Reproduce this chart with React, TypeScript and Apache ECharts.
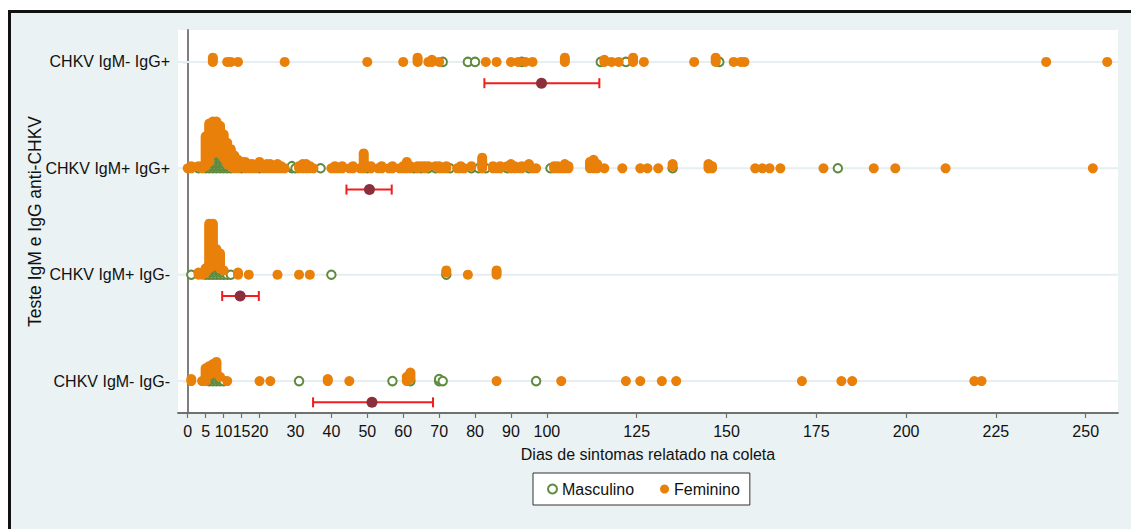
import React, { useEffect, useRef } from "react";
import * as echarts from "echarts";

// Test groups, bottom to top (y positions 1..4)
const groupLabels = ["CHKV IgM- IgG-", "CHKV IgM+ IgG-", "CHKV IgM+ IgG+", "CHKV IgM- IgG+"];
const groupPositions = [1, 2, 3, 4];

// X-axis ticks (days)
const dayTicks = [0, 5, 10, 15, 20, 30, 40, 50, 60, 70, 80, 90, 100, 125, 150, 175, 200, 225, 250];

// Reported symptom days: [day, number of patients] per group and sex
const negNegMale = [[6, 3], [7, 4], [8, 4], [9, 2], [10, 1], [31, 1], [57, 1], [62, 1], [70, 2], [71, 1], [97, 1]];
const negNegFemale = [
  [1, 2], [4, 1], [5, 7], [6, 5], [7, 5], [8, 6], [9, 1], [11, 1], [20, 1], [23, 1], [39, 2], [45, 1],
  [61, 3], [62, 4], [86, 1], [104, 1], [122, 1], [126, 1], [132, 1], [136, 1], [171, 1], [182, 1],
  [185, 1], [219, 1], [221, 1],
];

const posNegMale = [[1, 1], [5, 1], [6, 3], [7, 4], [8, 5], [9, 3], [10, 2], [11, 1], [12, 1], [40, 1], [72, 1]];
const posNegFemale = [
  [3, 2], [4, 2], [5, 3], [6, 22], [7, 21], [8, 8], [9, 8], [10, 1], [14, 2], [17, 1], [25, 1], [31, 1],
  [34, 1], [72, 2], [78, 1], [86, 3],
];

const posPosMale = [
  [3, 1], [5, 1], [6, 3], [7, 7], [8, 9], [9, 7], [10, 5], [11, 2], [12, 1], [15, 1], [20, 1], [29, 2],
  [30, 1], [37, 1], [50, 1], [63, 1], [65, 1], [67, 1], [69, 1], [73, 1], [79, 1], [81, 1], [83, 1],
  [89, 1], [95, 1], [101, 1], [135, 1], [181, 1],
];
const posPosFemale = [
  [0, 1], [1, 2], [3, 1], [4, 2], [5, 15], [6, 19], [7, 16], [8, 14], [9, 14], [10, 12], [11, 11],
  [12, 9], [13, 7], [14, 5], [15, 3], [16, 4], [17, 3], [18, 3], [19, 2], [20, 3], [21, 2], [22, 3],
  [23, 3], [24, 2], [25, 3], [26, 2], [27, 1], [31, 2], [32, 3], [33, 3], [34, 2], [35, 1], [40, 1],
  [41, 2], [42, 1], [43, 2], [45, 1], [46, 2], [48, 1], [49, 8], [50, 1], [51, 2], [53, 1], [54, 2],
  [56, 1], [57, 2], [59, 1], [60, 2], [61, 4], [62, 2], [64, 2], [65, 1], [66, 2], [67, 1], [69, 1],
  [70, 2], [71, 1], [72, 2], [75, 1], [76, 2], [77, 1], [79, 1], [82, 6], [85, 2], [86, 1], [87, 2],
  [89, 1], [90, 3], [91, 2], [92, 1], [93, 2], [95, 2], [96, 1], [97, 1], [102, 2], [103, 2], [104, 1],
  [105, 3], [106, 2], [112, 4], [113, 5], [114, 3], [116, 1], [121, 1], [126, 1], [128, 1], [131, 1],
  [135, 2], [145, 3], [146, 2], [158, 1], [160, 1], [162, 1], [165, 1], [177, 1], [191, 1], [197, 1],
  [211, 1], [252, 1],
];

const negPosMale = [[71, 1], [78, 1], [80, 1], [93, 1], [115, 1], [122, 1], [148, 1]];
const negPosFemale = [
  [7, 3], [11, 1], [12, 1], [14, 1], [27, 1], [50, 1], [60, 1], [64, 3], [67, 1], [68, 2], [70, 1],
  [83, 1], [86, 1], [90, 1], [92, 1], [94, 1], [96, 1], [105, 3], [116, 2], [118, 1], [120, 1],
  [124, 3], [127, 1], [141, 1], [147, 3], [152, 1], [154, 1], [155, 1], [239, 1], [256, 1],
];

// Mean and 95% CI of days, per group (bottom to top)
const meanDays = [51.3, 14.6, 50.6, 98.5];
const ciLow = [34.9, 9.6, 44.2, 82.6];
const ciHigh = [68.3, 19.8, 56.8, 114.6];

const maleByGroup = [negNegMale, posNegMale, posPosMale, negPosMale];
const femaleByGroup = [negNegFemale, posNegFemale, posPosFemale, negPosFemale];

const STACK_STEP = 0.02; // vertical offset between stacked dots
const CI_OFFSET = 0.2; // CI bar sits below its group line

const FONT = "Arial, 'Liberation Sans', sans-serif";
const GREEN = "#5E8B3F";
const ORANGE = "#E8800A";

// Stack tied values: males at the base, females on top of them
function buildStacks() {
  const male: number[][] = [];
  const female: number[][] = [];
  groupPositions.forEach((base, g) => {
    const mCount: Record<number, number> = {};
    maleByGroup[g].forEach(([d, n]) => {
      mCount[d] = n;
      for (let i = 0; i < n; i++) male.push([d, base + i * STACK_STEP]);
    });
    femaleByGroup[g].forEach(([d, n]) => {
      const off = mCount[d] || 0;
      for (let j = 0; j < n; j++) female.push([d, base + (off + j) * STACK_STEP]);
    });
  });
  return { male, female };
}

export default function App() {
  const ref = useRef<HTMLDivElement>(null);

  useEffect(() => {
    if (!ref.current) return;
    const chart = echarts.init(ref.current, undefined, { renderer: "svg" });
    const { male, female } = buildStacks();

    const ciData = groupPositions.map((p, i) => [ciLow[i], ciHigh[i], meanDays[i], p - CI_OFFSET]);
    const meanData = groupPositions.map((p, i) => [meanDays[i], p - CI_OFFSET]);

    chart.setOption({
      animation: false,
      backgroundColor: "#EAF2F3",
      textStyle: { fontFamily: FONT },
      grid: {
        left: 167,
        top: 17,
        width: 940,
        height: 383,
        backgroundColor: "#fff",
        show: true,
        borderWidth: 0,
        containLabel: false,
        outerBoundsMode: "none",
      },
      legend: {
        data: ["Masculino", "Feminino"],
        left: 522,
        top: 460,
        backgroundColor: "#fff",
        borderColor: "#333",
        borderWidth: 1,
        borderRadius: 0,
        padding: [8, 10, 8, 14],
        itemWidth: 9,
        itemHeight: 9,
        itemGap: 26,
        textStyle: { fontSize: 16, color: "#111", fontFamily: FONT },
      },
      xAxis: {
        type: "value",
        min: -2.7,
        max: 259,
        name: "Dias de sintomas relatado na coleta",
        nameLocation: "middle",
        nameGap: 33,
        nameMoveOverlap: false,
        nameTextStyle: { fontSize: 16, color: "#111", fontFamily: FONT },
        axisLine: { show: true, lineStyle: { color: "#707070", width: 1.8 } },
        axisTick: { show: true, customValues: dayTicks, length: 5, lineStyle: { color: "#707070", width: 1.2 } },
        axisLabel: { customValues: dayTicks, fontSize: 16, color: "#111", margin: 10, hideOverlap: false, fontFamily: FONT },
        splitLine: { show: false },
      },
      yAxis: {
        type: "value",
        min: 0.7,
        max: 4.3,
        name: "Teste IgM e IgG anti-CHKV",
        nameLocation: "middle",
        nameRotate: 90,
        nameGap: 134,
        nameMoveOverlap: false,
        nameTextStyle: { fontSize: 17.5, color: "#111", fontFamily: FONT },
        axisLine: { show: true, lineStyle: { color: "#707070", width: 1.8 } },
        axisTick: { show: true, customValues: groupPositions, length: 5, lineStyle: { color: "#707070", width: 1.2 } },
        axisLabel: {
          customValues: groupPositions,
          fontSize: 16,
          color: "#111",
          margin: 8,
          fontFamily: FONT,
          formatter: (v: number) => groupLabels[Math.round(v) - 1] ?? "",
        },
        splitLine: { show: false },
      },
      series: [
        {
          // light guide line through each group
          type: "custom",
          silent: true,
          data: groupPositions.map((p) => [0, p]),
          encode: { x: 0, y: 1 },
          renderItem: (params: any, api: any) => {
            const cs = params.coordSys;
            const y = api.coord([0, api.value(1)])[1];
            return {
              type: "line",
              shape: { x1: cs.x, y1: y, x2: cs.x + cs.width, y2: y },
              style: { stroke: "#E6EEF1", lineWidth: 2 },
            };
          },
          z: 1,
        },
        {
          name: "Masculino",
          type: "scatter",
          symbol: "emptyCircle",
          symbolSize: 8.5,
          itemStyle: { color: GREEN, borderColor: GREEN, borderWidth: 1.4, opacity: 1 },
          data: male,
          z: 2,
        },
        {
          name: "Feminino",
          type: "scatter",
          symbol: "circle",
          symbolSize: 10,
          itemStyle: { color: ORANGE, opacity: 1 },
          data: female,
          z: 3,
        },
        {
          type: "custom",
          silent: true,
          data: ciData,
          encode: { x: [0, 1], y: 3 },
          renderItem: (_params: any, api: any) => {
            const y = api.value(3);
            const lo = api.coord([api.value(0), y]);
            const hi = api.coord([api.value(1), y]);
            const cap = 5;
            const st = { stroke: "#F21D1D", lineWidth: 2 };
            return {
              type: "group",
              children: [
                { type: "line", shape: { x1: lo[0], y1: lo[1], x2: hi[0], y2: hi[1] }, style: st },
                { type: "line", shape: { x1: lo[0], y1: lo[1] - cap, x2: lo[0], y2: lo[1] + cap }, style: st },
                { type: "line", shape: { x1: hi[0], y1: hi[1] - cap, x2: hi[0], y2: hi[1] + cap }, style: st },
              ],
            };
          },
          z: 4,
        },
        {
          type: "scatter",
          symbol: "circle",
          symbolSize: 11,
          itemStyle: { color: "#8C2F3D", opacity: 1 },
          data: meanData,
          silent: true,
          z: 5,
        },
      ],
    });

    return () => chart.dispose();
  }, []);

  return (
    <div
      style={{
        position: "fixed",
        left: 8,
        top: 10,
        borderTop: "3px solid #111",
        borderLeft: "3px solid #111",
      }}
    >
      <div ref={ref} style={{ width: 1120, height: 516 }} />
    </div>
  );
}
